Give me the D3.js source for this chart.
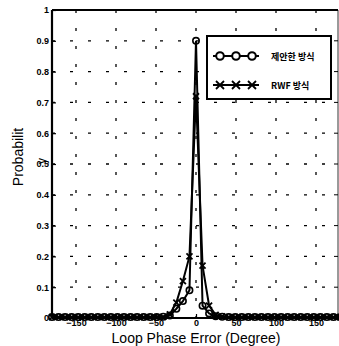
<!DOCTYPE html>
<html><head><meta charset="utf-8">
<script src="https://cdn.jsdelivr.net/npm/d3@7"></script>
<style>
html,body{margin:0;padding:0;background:#fff;}
svg{display:block;}
text{font-family:Arial,"Liberation Sans",sans-serif;fill:#000;}
</style></head>
<body>
<svg id="c" width="339" height="346"></svg>
<script>
const phaseDeg = [-180,-171.82,-163.64,-155.45,-147.27,-139.09,-130.91,-122.73,-114.55,-106.36,-98.18,-90,-81.82,-73.64,-65.45,-57.27,-49.09,-40.91,-32.73,-24.55,-16.36,-8.18,0,8.18,16.36,24.55,32.73,40.91,49.09,57.27,65.45,73.64,81.82,90,98.18,106.36,114.55,122.73,130.91,139.09,147.27,155.45,163.64,171.82,180];
const proposed = [0.003,0.003,0.003,0.003,0.003,0.003,0.003,0.003,0.003,0.003,0.003,0.003,0.003,0.003,0.003,0.003,0.003,0.004,0.008,0.03,0.055,0.09,0.90,0.04,0.015,0.006,0.004,0.003,0.003,0.003,0.003,0.003,0.003,0.003,0.003,0.003,0.003,0.003,0.003,0.003,0.003,0.003,0.003,0.003,0.003];
const rwf = [0.003,0.003,0.003,0.003,0.003,0.003,0.003,0.003,0.003,0.003,0.003,0.003,0.003,0.003,0.003,0.003,0.003,0.004,0.012,0.05,0.12,0.20,0.72,0.17,0.04,0.01,0.005,0.003,0.003,0.003,0.003,0.003,0.003,0.003,0.003,0.003,0.003,0.003,0.003,0.003,0.003,0.003,0.003,0.003,0.003];
const xTicks = [-150,-100,-50,0,50,100,150];
const yTicks = [0,0.1,0.2,0.3,0.4,0.5,0.6,0.7,0.8,0.9,1];
const seriesNames = ["제안한 방식","RWF 방식"];
const xLabel = "Loop Phase Error (Degree)";

const svg = d3.select("#c");
const L=52,R=338,T=10,B=318;
const x = d3.scaleLinear().domain([-180,180]).range([L,340]);
const y = d3.scaleLinear().domain([0,1]).range([B,T]);

// grid
const g = svg.append("g");
g.selectAll("line.vg").data(xTicks).join("line")
  .attr("x1",d=>x(d)).attr("x2",d=>x(d)).attr("y1",T).attr("y2",B)
  .attr("stroke","#000").attr("stroke-width",1.3).attr("stroke-dasharray","3,15");
g.selectAll("line.hg").data(yTicks.filter(d=>d>0&&d<1)).join("line")
  .attr("x1",L).attr("x2",R).attr("y1",d=>y(d)).attr("y2",d=>y(d))
  .attr("stroke","#000").attr("stroke-width",1.3).attr("stroke-dasharray","3,15");

// axes
const xAxis = d3.axisBottom(x).tickValues(xTicks).tickSize(-4).tickPadding(2).tickFormat(d3.format("d"));
const yAxis = d3.axisLeft(y).tickValues(yTicks).tickSize(-4).tickPadding(3).tickFormat(d=>d===0?"0":d===1?"1":d3.format(".1f")(d));
const xa = svg.append("g").attr("transform",`translate(0,${B})`).call(xAxis);
const ya = svg.append("g").attr("transform",`translate(${L},0)`).call(yAxis);
[xa,ya].forEach(a=>{
  a.select(".domain").remove();
  a.selectAll(".tick line").attr("stroke","#000").attr("stroke-width",1.2);
  a.selectAll(".tick text").style("font-size","9px").style("font-weight","bold").attr("fill","#000");
});
// right ticks
svg.append("g").selectAll("line").data(yTicks).join("line")
  .attr("x1",R).attr("x2",R-4).attr("y1",d=>y(d)).attr("y2",d=>y(d)).attr("stroke","#000");
// frame
svg.append("line").attr("x1",L).attr("x2",R).attr("y1",T).attr("y2",T).attr("stroke","#000").attr("stroke-width",2);
svg.append("line").attr("x1",L).attr("x2",L).attr("y1",T).attr("y2",B).attr("stroke","#000").attr("stroke-width",2.2);
svg.append("line").attr("x1",L).attr("x2",R).attr("y1",B).attr("y2",B).attr("stroke","#000").attr("stroke-width",2);
svg.append("line").attr("x1",R).attr("x2",R).attr("y1",T).attr("y2",B).attr("stroke","#000").attr("stroke-width",0.8);

const line = d3.line().x((d,i)=>x(phaseDeg[i])).y(d=>y(d));
function xMark(sel,cx,cy,s){
  sel.append("path").attr("d",`M${cx-s},${cy-s}L${cx+s},${cy+s}M${cx-s},${cy+s}L${cx+s},${cy-s}`)
    .attr("stroke","#000").attr("stroke-width",1.8).attr("fill","none");
}
const plot = svg.append("g");
plot.append("path").datum(rwf).attr("d",line).attr("fill","none").attr("stroke","#000").attr("stroke-width",2);
rwf.forEach((v,i)=>xMark(plot,x(phaseDeg[i]),y(v),3));
plot.append("path").datum(proposed).attr("d",line).attr("fill","none").attr("stroke","#000").attr("stroke-width",2);
plot.selectAll("circle").data(proposed).join("circle")
  .attr("cx",(d,i)=>x(phaseDeg[i])).attr("cy",d=>y(d)).attr("r",3.2)
  .attr("fill","none").attr("stroke","#000").attr("stroke-width",1.6);

// legend
const lg = svg.append("g");
lg.append("rect").attr("x",207).attr("y",36).attr("width",124).attr("height",63)
  .attr("fill","#fff").attr("stroke","#000").attr("stroke-width",2);
const ly = [56,85];
ly.forEach((yy,k)=>{
  lg.append("line").attr("x1",213).attr("x2",259).attr("y1",yy).attr("y2",yy).attr("stroke","#000").attr("stroke-width",2);
  [220,236,252].forEach(cx=>{
    if(k===0) lg.append("circle").attr("cx",cx).attr("cy",yy).attr("r",3.8).attr("fill","#fff").attr("stroke","#000").attr("stroke-width",2);
    else xMark(lg,cx,yy,4);
  });
  lg.append("text").attr("x",271).attr("y",yy+3.5).text(seriesNames[k])
    .style("font-size","9px").style("font-weight","bold")
    .style("font-family","'Noto Sans CJK KR',Arial,sans-serif");
});

// axis labels
svg.append("text").attr("x",196).attr("y",343).attr("text-anchor","middle").text(xLabel).style("font-size","14px");
svg.append("text").attr("transform","translate(23,157) rotate(-90)").attr("text-anchor","middle").text("Probabilit").style("font-size","14px");
svg.append("text").attr("transform","translate(46,161) rotate(-90)").attr("text-anchor","middle").text("y").style("font-size","12px");
</script>
</body></html>
